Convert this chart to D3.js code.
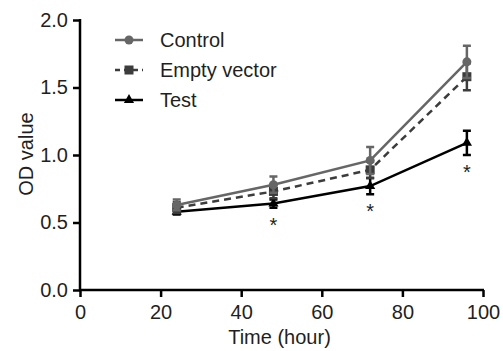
<!DOCTYPE html>
<html>
<head>
<meta charset="utf-8">
<script src="https://cdn.jsdelivr.net/npm/d3@7"></script>
<style>
  body { margin: 0; background: #fff; }
  svg { display: block; font-family: Arial, "Liberation Sans", sans-serif; }
</style>
</head>
<body>
<div id="chart"></div>
<script>
var times = [24, 48, 72, 96];
var controlMean = [0.63, 0.78, 0.96, 1.69];
var controlErr = [0.04, 0.06, 0.10, 0.12];
var emptyMean = [0.61, 0.73, 0.89, 1.58];
var emptyErr = [0.04, 0.05, 0.06, 0.10];
var testMean = [0.58, 0.64, 0.77, 1.09];
var testErr = [0.02, 0.03, 0.06, 0.09];
var starIdx = [1, 2, 3];
var xTicks = [0, 20, 40, 60, 80, 100];
var yTicks = [0.0, 0.5, 1.0, 1.5, 2.0];

var series = [
    { name: 'Control', mean: controlMean, err: controlErr, color: '#666666', dash: null, shape: 'circle' },
    { name: 'Empty vector', mean: emptyMean, err: emptyErr, color: '#3c3c3c', dash: '7,5', shape: 'square' },
    { name: 'Test', mean: testMean, err: testErr, color: '#000000', dash: null, shape: 'triangle' }
];

var width = 503, height = 351;
var svg = d3.select('#chart').append('svg')
    .attr('width', width)
    .attr('height', height);

var x = d3.scaleLinear().domain([0, 100]).range([80, 483]);
var y = d3.scaleLinear().domain([0, 2]).range([290, 20]);

// axes
var xAxis = svg.append('g')
    .attr('transform', 'translate(0,290)')
    .call(d3.axisBottom(x).tickValues(xTicks).tickSize(7).tickPadding(8).tickFormat(d3.format('d')));
var yAxis = svg.append('g')
    .attr('transform', 'translate(80,0)')
    .call(d3.axisLeft(y).tickValues(yTicks).tickSize(7).tickPadding(5).tickFormat(d3.format('.1f')));

[xAxis, yAxis].forEach(function(a) {
    a.select('.domain').attr('stroke', '#000').attr('stroke-width', 2.5);
    a.selectAll('.tick line').attr('stroke', '#000').attr('stroke-width', 2.5);
    a.selectAll('.tick text').attr('fill', '#231f20').style('font-size', '20px');
});
xAxis.select('.domain').attr('d', 'M79,0H' + (x(100) + 1));
yAxis.select('.domain').attr('d', 'M0,' + (y(0) + 1) + 'V' + (y(2) - 1));

svg.append('text')
    .attr('x', x(50) - 2)
    .attr('y', 344)
    .attr('text-anchor', 'middle')
    .attr('fill', '#231f20')
    .style('font-size', '20px')
    .text('Time (hour)');

svg.append('text')
    .attr('transform', 'translate(33,' + (y(1) - 1) + ') rotate(-90)')
    .attr('text-anchor', 'middle')
    .attr('fill', '#231f20')
    .style('font-size', '20px')
    .text('OD value');

var line = d3.line()
    .x(function(d, i) { return x(times[i]); })
    .y(function(d) { return y(d); });

function drawMarker(g, shape, cx, cy, color) {
    if (shape === 'circle') {
        g.append('circle').attr('cx', cx).attr('cy', cy).attr('r', 4.5).attr('fill', color);
    } else if (shape === 'square') {
        g.append('rect').attr('x', cx - 4.5).attr('y', cy - 4.5).attr('width', 9).attr('height', 9).attr('fill', color);
    } else {
        g.append('path')
            .attr('d', d3.symbol().type(d3.symbolTriangle).size(45)())
            .attr('transform', 'translate(' + cx + ',' + cy + ')')
            .attr('fill', color);
    }
}

// draw in reverse so Control sits on top
series.slice().reverse().forEach(function(s) {
    var g = svg.append('g');
    g.append('path')
        .datum(s.mean)
        .attr('d', line)
        .attr('fill', 'none')
        .attr('stroke', s.color)
        .attr('stroke-width', 2.5)
        .attr('stroke-dasharray', s.dash);

    s.mean.forEach(function(m, i) {
        var cx = x(times[i]);
        var top = y(m + s.err[i]), bot = y(m - s.err[i]);
        g.append('path')
            .attr('d', 'M' + cx + ',' + top + 'V' + bot +
                'M' + (cx - 4) + ',' + top + 'H' + (cx + 4) +
                'M' + (cx - 4) + ',' + bot + 'H' + (cx + 4))
            .attr('fill', 'none')
            .attr('stroke', s.color)
            .attr('stroke-width', 2.5);
        drawMarker(g, s.shape, cx, y(m), s.color);
    });
});

// significance stars under Test
starIdx.forEach(function(i) {
    svg.append('text')
        .attr('x', x(times[i]))
        .attr('y', y(testMean[i] - testErr[i]) + 24)
        .attr('text-anchor', 'middle')
        .attr('fill', '#231f20')
        .style('font-size', '20px')
        .text('*');
});

// legend
var legend = svg.append('g');
series.forEach(function(s, i) {
    var ly = 40 + i * 30;
    legend.append('line')
        .attr('x1', 115).attr('x2', 143)
        .attr('y1', ly).attr('y2', ly)
        .attr('stroke', s.color)
        .attr('stroke-width', 2.5)
        .attr('stroke-dasharray', s.dash ? '5,4' : null);
    drawMarker(legend, s.shape, 129, ly, s.color);
    legend.append('text')
        .attr('x', 160)
        .attr('y', ly + 7)
        .attr('fill', '#231f20')
        .style('font-size', '20px')
        .text(s.name);
});
</script>
</body>
</html>
